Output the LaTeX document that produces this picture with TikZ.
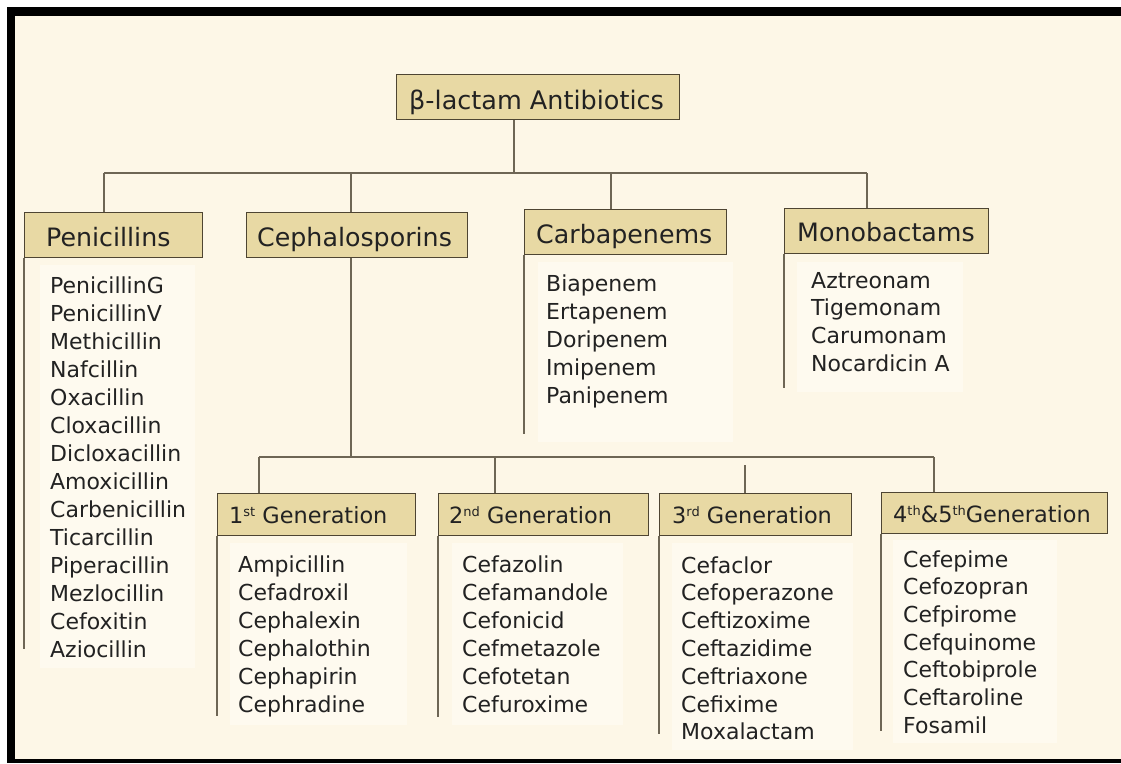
\documentclass[tikz,border=0pt]{standalone}
\usepackage{fontspec}
\setmainfont{DejaVu Sans}
\definecolor{bgcream}{HTML}{FDF7E7}
\definecolor{panel}{HTML}{FEFAEF}
\definecolor{hdrfill}{HTML}{E8D9A4}
\definecolor{hdrline}{HTML}{4E4532}
\definecolor{lineclr}{HTML}{6E6655}
\definecolor{txt}{HTML}{222222}
\newcommand\genSup[1]{\raisebox{7pt}{\fontsize{13}{13}\selectfont #1}}
\begin{document}
\begin{tikzpicture}[x=1pt,y=-1pt,
  hdr/.style={draw=hdrline, line width=1.4pt, fill=hdrfill, inner sep=0pt, anchor=north west},
  lbl/.style={inner sep=0pt, anchor=base west, text=txt},
  rootfont/.style={font=\fontsize{25.5}{30}\selectfont},
  catfont/.style={font=\fontsize{25.3}{30}\selectfont},
  genfont/.style={font=\fontsize{22.4}{27}\selectfont},
  item/.style={inner sep=0pt, anchor=base west, text=txt, font=\fontsize{22}{27}\selectfont},
  conn/.style={draw=lineclr, line width=2pt},
  pnl/.style={fill=panel, draw=none}]
\useasboundingbox (0,0) rectangle (1121,763);
% frame
\fill[white] (0,0) rectangle (1121,763);
\fill[black] (7,7) rectangle (1121,763);
\fill[bgcream] (15,16) rectangle (1121,759);
% subtle list panels
\fill[pnl] (40,265) rectangle (195,668);
\fill[pnl] (538,262) rectangle (733,442);
\fill[pnl] (797,262) rectangle (963,392);
\fill[pnl] (230,543) rectangle (407,725);
\fill[pnl] (452,543) rectangle (623,725);
\fill[pnl] (672,543) rectangle (853,750);
\fill[pnl] (893,540) rectangle (1057,743);

% header boxes
\node[hdr, minimum width=283pt, minimum height=45pt] (root) at (396,74) {};
\node[hdr, minimum width=178pt, minimum height=45pt] (pen) at (24,212) {};
\node[hdr, minimum width=221pt, minimum height=45pt] (ceph) at (246,212) {};
\node[hdr, minimum width=202pt, minimum height=45pt] (carb) at (524,209) {};
\node[hdr, minimum width=204pt, minimum height=45pt] (mono) at (784,208) {};
\node[hdr, minimum width=198pt, minimum height=42pt] (gen1) at (217,493) {};
\node[hdr, minimum width=210pt, minimum height=42pt] (gen2) at (438,493) {};
\node[hdr, minimum width=192pt, minimum height=42pt] (gen3) at (659,493) {};
\node[hdr, minimum width=226pt, minimum height=41pt] (gen4) at (881,492) {};

% header labels
\node[lbl, rootfont] (rootl) at (409,109) {β-lactam Antibiotics};
\node[lbl, catfont] (penl) at (46,246) {Penicillins};
\node[lbl, catfont] (cephl) at (257,246) {Cephalosporins};
\node[lbl, catfont] (carbl) at (536,243) {Carbapenems};
\node[lbl, catfont] (monol) at (797,241) {Monobactams};
\node[lbl, genfont] (gen1l) at (229,523) {1\genSup{st} Generation};
\node[lbl, genfont] (gen2l) at (449,523) {2\genSup{nd} Generation};
\node[lbl, genfont] (gen3l) at (672,523) {3\genSup{rd} Generation};
\node[lbl, genfont] (gen4l) at (893,522) {4\genSup{th}\&5\genSup{th}Generation};

% tree connectors
\coordinate (j0) at (514,173);
\coordinate (hl) at (104,173);
\coordinate (hr) at (867,173);
\coordinate (hc) at (351,173);
\coordinate (hb) at (611,173);
\draw[conn] (root.south -| j0) -- (j0);
\draw[conn] (hl) -- (hr);
\draw[conn] (hl) -- (hl |- pen.north);
\draw[conn] (hc) -- (hc |- ceph.north);
\draw[conn] (hb) -- (hb |- carb.north);
\draw[conn] (hr) -- (hr |- mono.north);

\coordinate (j1) at (351,457);
\coordinate (g1) at (259,457);
\coordinate (g2) at (495,457);
\coordinate (g3) at (745,465);
\coordinate (g4) at (934,457);
\draw[conn] (ceph.south -| j1) -- (j1);
\draw[conn] (g1) -- (g4);
\draw[conn] (g1) -- (g1 |- gen1.north);
\draw[conn] (g2) -- (g2 |- gen2.north);
\draw[conn] (g3) -- (g3 |- gen3.north);
\draw[conn] (g4) -- (g4 |- gen4.north);

% list brackets
\draw[conn] (pen.south west) -- ++(0,391);
\draw[conn] (carb.south west) -- ++(0,179);
\draw[conn] (mono.south west) -- ++(0,134);
\draw[conn] (gen1.south west) -- ++(0,180);
\draw[conn] (gen2.south west) -- ++(0,181);
\draw[conn] (gen3.south west) -- ++(0,198);
\draw[conn] (gen4.south west) -- ++(0,197);

% lists
\foreach \t [count=\i] in {PenicillinG,PenicillinV,Methicillin,Nafcillin,Oxacillin,Cloxacillin,Dicloxacillin,Amoxicillin,Carbenicillin,Ticarcillin,Piperacillin,Mezlocillin,Cefoxitin,Aziocillin}
  \node[item] (penI\i) at (50,{293+28*(\i-1)}) {\t};
\foreach \t [count=\i] in {Biapenem,Ertapenem,Doripenem,Imipenem,Panipenem}
  \node[item] (carbI\i) at (546,{291+28*(\i-1)}) {\t};
\foreach \t [count=\i] in {Aztreonam,Tigemonam,Carumonam,Nocardicin A}
  \node[item] (monoI\i) at (811,{288+27.7*(\i-1)}) {\t};
\foreach \t [count=\i] in {Ampicillin,Cefadroxil,Cephalexin,Cephalothin,Cephapirin,Cephradine}
  \node[item] (genAI\i) at (238,{572+28*(\i-1)}) {\t};
\foreach \t [count=\i] in {Cefazolin,Cefamandole,Cefonicid,Cefmetazole,Cefotetan,Cefuroxime}
  \node[item] (genBI\i) at (462,{572+28*(\i-1)}) {\t};
\foreach \t [count=\i] in {Cefaclor,Cefoperazone,Ceftizoxime,Ceftazidime,Ceftriaxone,Cefixime,Moxalactam}
  \node[item] (genCI\i) at (681,{573+27.8*(\i-1)}) {\t};
\foreach \t [count=\i] in {Cefepime,Cefozopran,Cefpirome,Cefquinome,Ceftobiprole,Ceftaroline,Fosamil}
  \node[item] (genDI\i) at (903,{567+27.7*(\i-1)}) {\t};
\end{tikzpicture}
\end{document}
